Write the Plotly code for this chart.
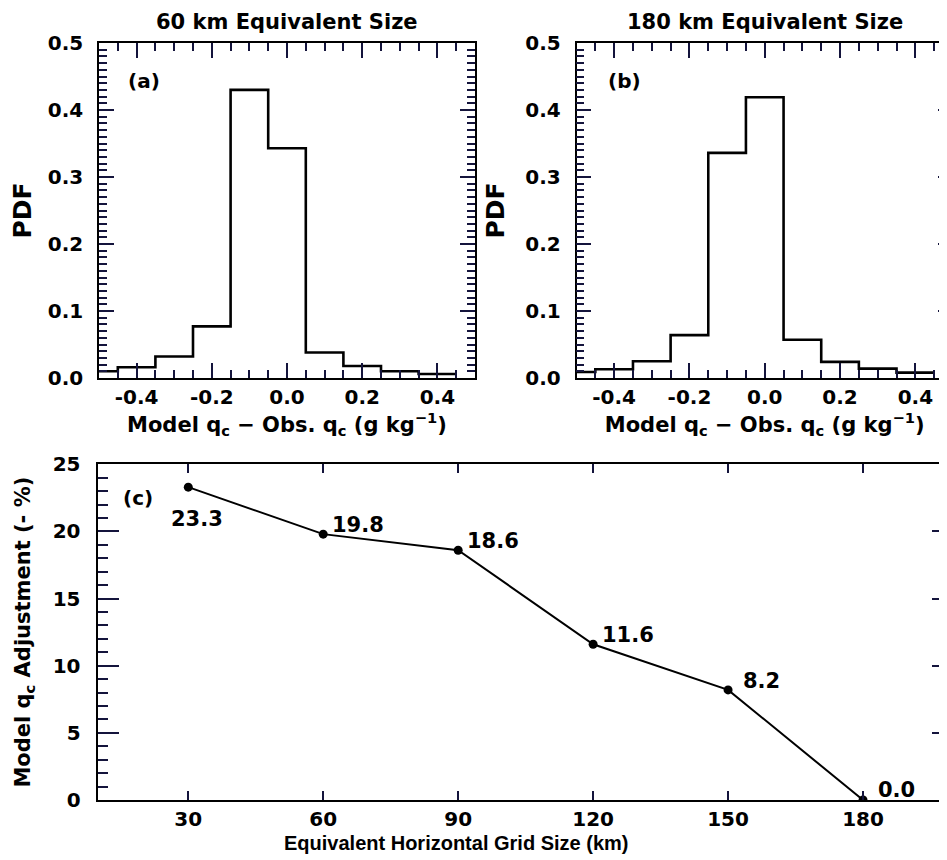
import plotly.graph_objects as go
from plotly.subplots import make_subplots

# histogram bin centres (g/kg) and PDF values
bin_centers = [-0.5, -0.4, -0.3, -0.2, -0.1, 0.0, 0.1, 0.2, 0.3, 0.4]
pdf_60km = [0.010, 0.016, 0.032, 0.077, 0.430, 0.343, 0.038, 0.018, 0.010, 0.006]
pdf_180km = [0.009, 0.013, 0.025, 0.064, 0.336, 0.419, 0.057, 0.024, 0.014, 0.008]
hist_ticks = [-0.4, -0.2, 0.0, 0.2, 0.4]
hist_ticktext = ["-0.4", "-0.2", "0.0", "0.2", "0.4"]

# panel (c)
grid_size = [30, 60, 90, 120, 150, 180]
adjustment = [23.3, 19.8, 18.6, 11.6, 8.2, 0.0]
adj_labels = ["23.3", "19.8", "18.6", "11.6", "8.2", "0.0"]

FONT = "DejaVu Sans"
INK = "#000000"
TICK = "#14143c"   # very dark navy, plain grey ticks did not show up
W, H = 947, 860
OFF = 8  # page body margin pushes the plot 8px right/down


def px(x):
    return (x - OFF) / W


def py(y):
    return 1 - (y - OFF) / H


def step_xy(centers, vals, width=0.1):
    # IDL psym=10 style: full width step around every centre
    xs = [c - width / 2 for c in centers] + [centers[-1] + width / 2]
    ys = list(vals) + [vals[-1]]
    return xs, ys


fig = make_subplots(rows=2, cols=2,
                    specs=[[{}, {}], [{"colspan": 2}, None]])

for col, vals in [(1, pdf_60km), (2, pdf_180km)]:
    xs, ys = step_xy(bin_centers, vals)
    fig.add_trace(go.Scatter(x=xs, y=ys, mode="lines", line_shape="hv",
                             line=dict(color=INK, width=2.6),
                             showlegend=False, hoverinfo="skip"),
                  row=1, col=col)

fig.add_trace(go.Scatter(x=grid_size, y=adjustment, mode="lines+markers",
                         line=dict(color=INK, width=2),
                         marker=dict(color=INK, size=9),
                         showlegend=False), row=2, col=1)

tickfont = dict(family=FONT, size=20, color=INK, weight="bold")
base = dict(showline=True, linecolor=INK, linewidth=1.5, mirror="ticks",
            ticks="inside", tickcolor=TICK, tickwidth=2, automargin=False,
            showgrid=False, zeroline=False, tickfont=tickfont)

xtitle = dict(text="Model q<sub>c</sub> \u2212 Obs. q<sub>c</sub> (g kg<sup>\u22121</sup>)",
              font=dict(family=FONT, size=21, color=INK, weight="bold"),
              standoff=2)
ytitle = dict(text="PDF", font=dict(family=FONT, size=25, color=INK, weight="bold"),
              standoff=14)

hist_x = dict(base, tickvals=hist_ticks, ticktext=hist_ticktext, ticklen=15,
              minor=dict(ticks="inside", dtick=0.05, tick0=0, ticklen=8,
                         tickcolor=TICK, tickwidth=1.5, showgrid=False),
              title=xtitle)
hist_y = dict(base, range=[0, 0.5], dtick=0.1, tickformat=".1f", ticklen=15,
              ticklabelstandoff=10,
              minor=dict(ticks="inside", dtick=0.01, ticklen=8,
                         tickcolor=TICK, tickwidth=1.5, showgrid=False),
              title=ytitle)

fig.update_layout(
    xaxis=dict(hist_x, domain=[px(99), px(475)], range=[-0.5, 0.5]),
    yaxis=dict(hist_y, domain=[py(378), py(43)]),
    xaxis2=dict(hist_x, domain=[px(576.5), px(953)], range=[-0.5, 0.5]),
    yaxis2=dict(hist_y, domain=[py(378), py(43)]),
    xaxis3=dict(base, domain=[px(98.3), px(953)], range=[10, 200],
                tickvals=grid_size, ticklen=9,
                tickfont=dict(tickfont, size=20)),
    yaxis3=dict(base, domain=[py(800), py(464.3)], range=[0, 25],
                dtick=5, ticklen=21, ticklabelstandoff=12,
                tickfont=dict(tickfont, size=20),
                minor=dict(ticks="inside", dtick=1, ticklen=10,
                           tickcolor=TICK, tickwidth=1.5, showgrid=False),
                title=dict(text="Model q<sub>c</sub> Adjustment (- %)",
                           font=dict(family=FONT, size=21, color=INK, weight="bold"),
                           standoff=16)),
    width=W, height=H, autosize=False,
    margin=dict(l=0, r=0, t=0, b=0, pad=0),
    plot_bgcolor="white", paper_bgcolor="white",
)

ann_font = dict(family=FONT, size=21, color=INK, weight="bold")
lab_font = dict(family=FONT, size=20, color=INK, weight="bold")
annotations = [
    dict(text="60 km Equivalent Size", x=px(287), y=py(22), xref="paper", yref="paper",
         xanchor="center", yanchor="middle", showarrow=False, font=ann_font),
    dict(text="180 km Equivalent Size", x=px(765), y=py(22), xref="paper", yref="paper",
         xanchor="center", yanchor="middle", showarrow=False, font=ann_font),
    dict(text="(a)", x=px(126), y=py(81), xref="paper", yref="paper",
         xanchor="left", yanchor="middle", showarrow=False, font=lab_font),
    dict(text="(b)", x=px(606), y=py(81), xref="paper", yref="paper",
         xanchor="left", yanchor="middle", showarrow=False, font=lab_font),
    dict(text="(c)", x=px(121), y=py(498), xref="paper", yref="paper",
         xanchor="left", yanchor="middle", showarrow=False, font=lab_font),
    # x title of (c) sits left of the panel centre in the original
    dict(text="Equivalent Horizontal Grid Size (km)", x=px(456), y=py(843),
         xref="paper", yref="paper", xanchor="center", yanchor="middle",
         showarrow=False,
         font=dict(family="Liberation Sans", size=20, color=INK, weight="bold")),
]

# value labels next to each point (first one sits below the point)
label_shift = [(9, -32, "center"), (7, 9, "left"), (7, 9, "left"),
               (7, 9, "left"), (13, 9, "left"), (13, 10, "left")]
for xv, yv, txt, (dx, dy, anc) in zip(grid_size, adjustment, adj_labels, label_shift):
    annotations.append(dict(text=txt, x=xv, y=yv, xref="x3", yref="y3",
                            xanchor=anc, yanchor="middle", xshift=dx, yshift=dy,
                            showarrow=False, font=dict(lab_font, size=21)))

fig.update_layout(annotations=annotations)

fig.write_html("out.html")
